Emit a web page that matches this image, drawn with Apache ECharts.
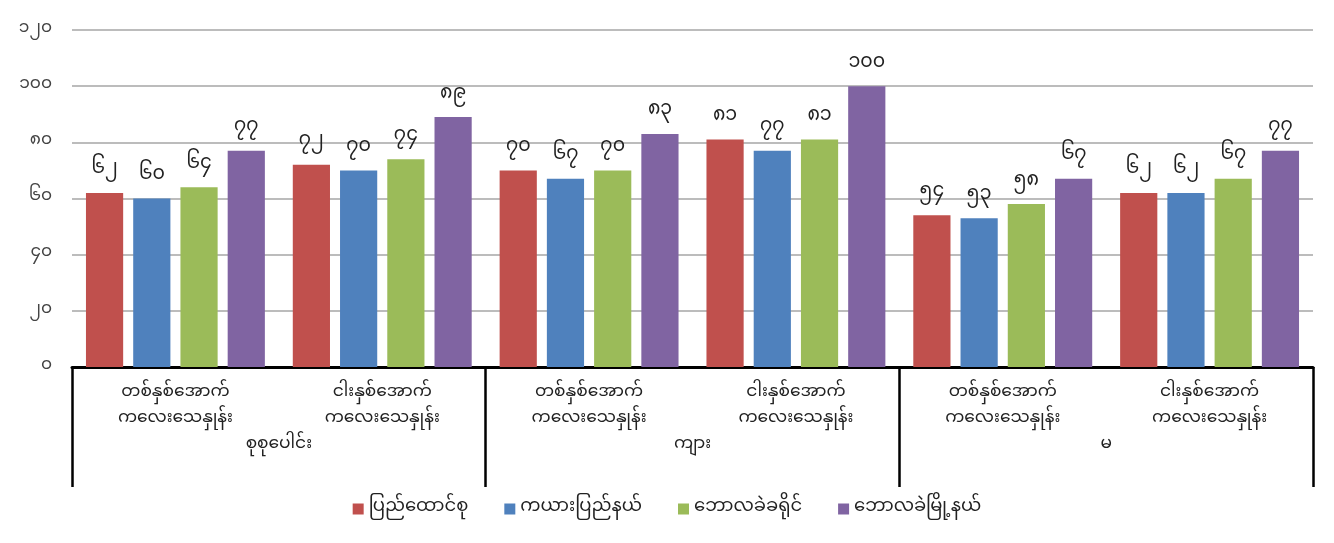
<!DOCTYPE html>
<html><head><meta charset="utf-8">
<script src="https://cdn.jsdelivr.net/npm/echarts@6/dist/echarts.min.js"></script>
<style>html,body{margin:0;padding:0;background:#fff}#c{width:1334px;height:543px}</style>
</head><body><div id="c"></div>
<script>
const subCategories = ['တစ်နှစ်အောက်\nကလေးသေနှုန်း','ငါးနှစ်အောက်\nကလေးသေနှုန်း','တစ်နှစ်အောက်\nကလေးသေနှုန်း','ငါးနှစ်အောက်\nကလေးသေနှုန်း','တစ်နှစ်အောက်\nကလေးသေနှုန်း','ငါးနှစ်အောက်\nကလေးသေနှုန်း'];
const groups = ['စုစုပေါင်း','ကျား','မ'];
const seriesNames = ['ပြည်ထောင်စု','ကယားပြည်နယ်','ဘောလခဲခရိုင်','ဘောလခဲမြို့နယ်'];
const union = [62, 72, 70, 81, 54, 62];
const kayah = [60, 70, 67, 77, 53, 62];
const district = [64, 74, 70, 81, 58, 67];
const township = [77, 89, 83, 100, 67, 77];
const yTicks = [0, 20, 40, 60, 80, 100, 120];
const colors = ['#C0504D','#4F81BD','#9BBB59','#8064A2'];
const digits = '၀၁၂၃၄၅၆၇၈၉';
const toMy = v => String(v).replace(/[0-9]/g, d => digits[+d]);
const FONT = '"Noto Sans Myanmar","Padauk","Myanmar Text","Noto Sans",sans-serif';
const vals = [union, kayah, district, township];
const chart = echarts.init(document.getElementById('c'));
chart.setOption({
  animation:false,
  grid:{left:72,right:21,top:30,bottom:176},
  legend:{bottom:20,left:'center',itemWidth:11,itemHeight:11,itemGap:36,icon:'rect',
    textStyle:{fontFamily:FONT,fontSize:18,color:'#222'},data:seriesNames},
  xAxis:[
    {type:'category',data:subCategories,position:'bottom',
     axisLine:{lineStyle:{color:'#000',width:3}},axisTick:{show:false},
     axisLabel:{margin:14,fontFamily:FONT,fontSize:17,color:'#222',lineHeight:26,interval:0}},
    {type:'category',data:groups,position:'bottom',
     axisLine:{show:false},
     axisTick:{show:true,length:120,lineStyle:{color:'#000',width:2.5}},
     axisLabel:{margin:71,fontFamily:FONT,fontSize:17,color:'#222'}}
  ],
  yAxis:{type:'value',min:yTicks[0],max:yTicks[yTicks.length-1],interval:20,
    axisLine:{show:false},axisTick:{show:false},
    splitLine:{lineStyle:{color:'#A6A6A6',width:1.5}},
    axisLabel:{margin:20,fontFamily:FONT,fontSize:17,color:'#444',formatter:v=>toMy(v)}},
  series: seriesNames.map((n,i)=>({
    name:n,type:'bar',xAxisIndex:0,data:vals[i],barGap:'27%',barCategoryGap:'13.5%',
    itemStyle:{color:colors[i]},
    label:{show:true,position:'top',distance:12,fontFamily:FONT,fontSize:19,color:'#222',formatter:p=>toMy(p.value)}
  }))
});
</script></body></html>
